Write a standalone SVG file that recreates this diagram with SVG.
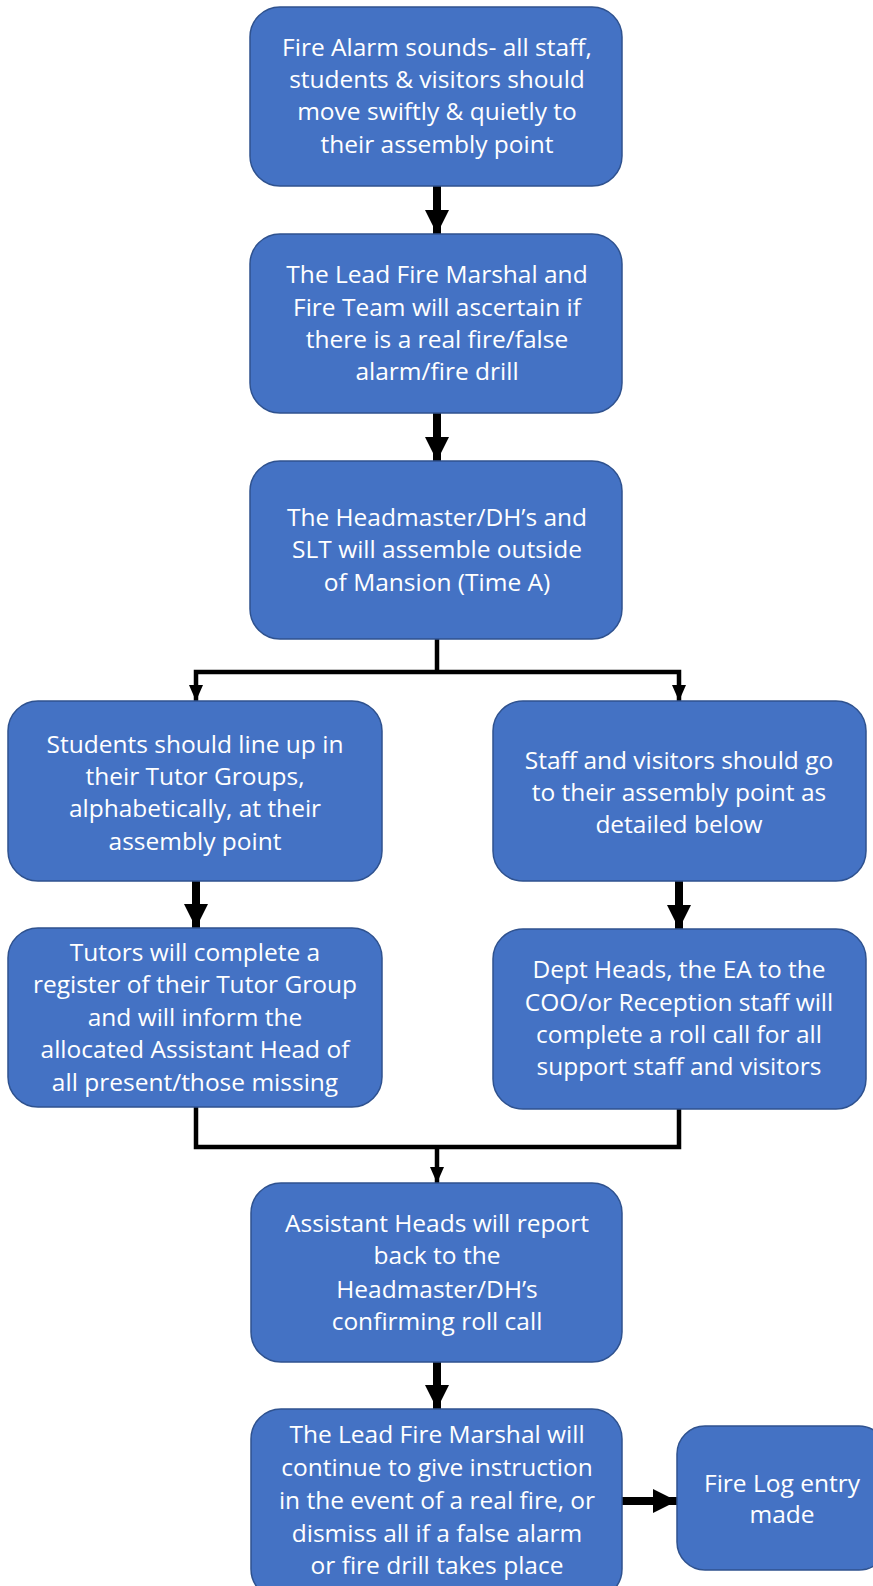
<svg xmlns="http://www.w3.org/2000/svg" width="873" height="1586" viewBox="0 0 873 1586">
<defs>
<style>
.box{fill:#4472C4;stroke:#2F528F;stroke-width:1.5}
.t{font-family:"Open Sans","Noto Sans","Liberation Sans",sans-serif;font-size:24.5px;fill:#fff;text-anchor:middle}
.thick{stroke:#000;stroke-width:8;fill:none}
.thin{stroke:#000;stroke-width:4.5;fill:none}
</style>
<marker id="ah" markerUnits="userSpaceOnUse" viewBox="0 0 24 24" refX="24" refY="12" markerWidth="24" markerHeight="24" orient="auto">
<path d="M0,0 L24,12 L0,24 Z" fill="#000"/>
</marker>
<marker id="ahs" markerUnits="userSpaceOnUse" viewBox="0 0 16 14" refX="16" refY="7" markerWidth="16" markerHeight="14" orient="auto">
<path d="M0,0 L16,7 L0,14 Z" fill="#000"/>
</marker>
</defs>
<g id="connectors">
<line class="thick" x1="437" y1="186" x2="437" y2="234" marker-end="url(#ah)"/>
<line class="thick" x1="437" y1="413" x2="437" y2="461" marker-end="url(#ah)"/>
<polyline class="thin" points="437,639 437,672"/>
<polyline class="thin" points="437,672 196,672 196,701" marker-end="url(#ahs)"/>
<polyline class="thin" points="437,672 679,672 679,701" marker-end="url(#ahs)"/>
<line class="thick" x1="196" y1="881" x2="196" y2="928" marker-end="url(#ah)"/>
<line class="thick" x1="679" y1="881" x2="679" y2="929" marker-end="url(#ah)"/>
<polyline class="thin" points="196,1107 196,1147 679,1147 679,1109"/>
<line class="thin" x1="437" y1="1147" x2="437" y2="1183" marker-end="url(#ahs)"/>
<line class="thick" x1="437" y1="1362" x2="437" y2="1409" marker-end="url(#ah)"/>
<line class="thick" x1="622" y1="1501" x2="677" y2="1501" marker-end="url(#ah)"/>
</g>
<g id="n1">
<rect class="box" x="250" y="7" width="372" height="179" rx="30"/>
<text class="t" x="437" y="56">Fire Alarm sounds- all staff,</text>
<text class="t" x="437" y="88">students &amp; visitors should</text>
<text class="t" x="437" y="120">move swiftly &amp; quietly to</text>
<text class="t" x="437" y="153">their assembly point</text>
</g>
<g id="n2">
<rect class="box" x="250" y="234" width="372" height="179" rx="30"/>
<text class="t" x="437" y="283">The Lead Fire Marshal and</text>
<text class="t" x="437" y="316">Fire Team will ascertain if</text>
<text class="t" x="437" y="348">there is a real fire/false</text>
<text class="t" x="437" y="380">alarm/fire drill</text>
</g>
<g id="n3">
<rect class="box" x="250" y="461" width="372" height="178" rx="30"/>
<text class="t" x="437" y="526">The Headmaster/DH’s and</text>
<text class="t" x="437" y="558">SLT will assemble outside</text>
<text class="t" x="437" y="591">of Mansion (Time A)</text>
</g>
<g id="n4">
<rect class="box" x="8" y="701" width="374" height="180" rx="30"/>
<text class="t" x="195" y="753">Students should line up in</text>
<text class="t" x="195" y="785">their Tutor Groups,</text>
<text class="t" x="195" y="817">alphabetically, at their</text>
<text class="t" x="195" y="850">assembly point</text>
</g>
<g id="n5">
<rect class="box" x="493" y="701" width="373" height="180" rx="30"/>
<text class="t" x="679" y="769">Staff and visitors should go</text>
<text class="t" x="679" y="801">to their assembly point as</text>
<text class="t" x="679" y="833">detailed below</text>
</g>
<g id="n6">
<rect class="box" x="8" y="928" width="374" height="179" rx="30"/>
<text class="t" x="195" y="961">Tutors will complete a</text>
<text class="t" x="195" y="993">register of their Tutor Group</text>
<text class="t" x="195" y="1026">and will inform the</text>
<text class="t" x="195" y="1058">allocated Assistant Head of</text>
<text class="t" x="195" y="1091">all present/those missing</text>
</g>
<g id="n7">
<rect class="box" x="493" y="929" width="373" height="180" rx="30"/>
<text class="t" x="679" y="978">Dept Heads, the EA to the</text>
<text class="t" x="679" y="1011">COO/or Reception staff will</text>
<text class="t" x="679" y="1043">complete a roll call for all</text>
<text class="t" x="679" y="1075">support staff and visitors</text>
</g>
<g id="n8">
<rect class="box" x="251" y="1183" width="371" height="179" rx="30"/>
<text class="t" x="437" y="1232">Assistant Heads will report</text>
<text class="t" x="437" y="1264">back to the</text>
<text class="t" x="437" y="1298">Headmaster/DH’s</text>
<text class="t" x="437" y="1330">confirming roll call</text>
</g>
<g id="n9">
<rect class="box" x="251" y="1409" width="371" height="190" rx="30"/>
<text class="t" x="437" y="1443">The Lead Fire Marshal will</text>
<text class="t" x="437" y="1476">continue to give instruction</text>
<text class="t" x="437" y="1509">in the event of a real fire, or</text>
<text class="t" x="437" y="1542">dismiss all if a false alarm</text>
<text class="t" x="437" y="1574">or fire drill takes place</text>
</g>
<g id="n10">
<rect class="box" x="677" y="1426" width="210" height="144" rx="28"/>
<text class="t" x="782" y="1492">Fire Log entry</text>
<text class="t" x="782" y="1523">made</text>
</g>
</svg>
